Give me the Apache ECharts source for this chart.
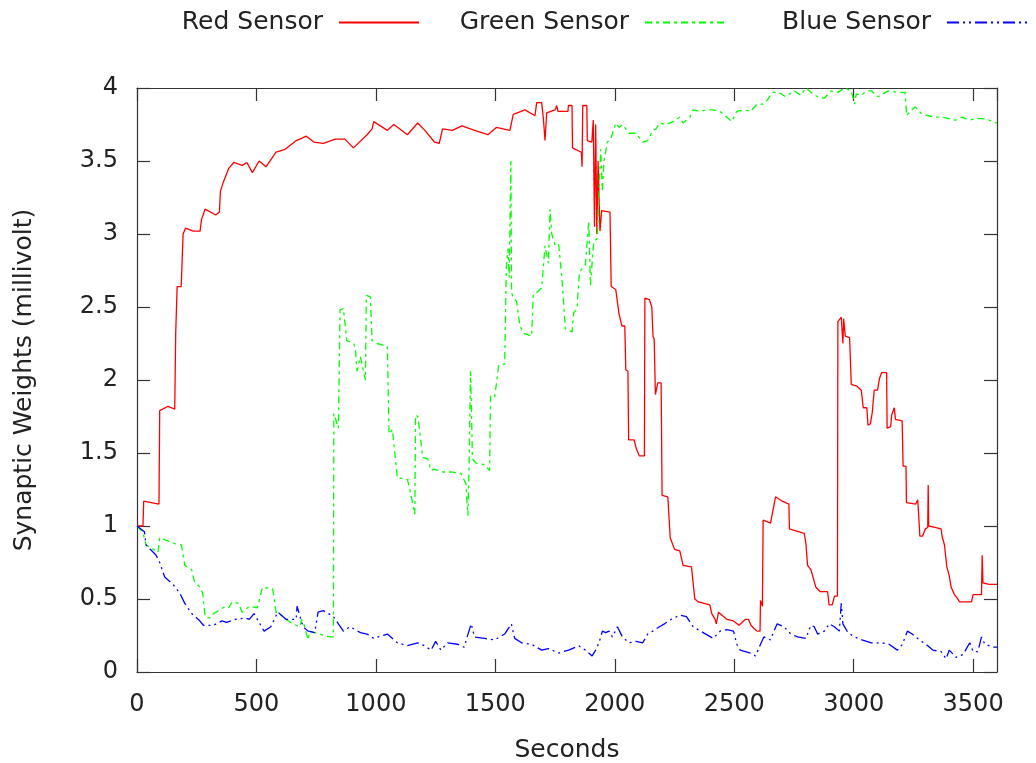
<!DOCTYPE html>
<html>
<head>
<meta charset="utf-8">
<title>Synaptic Weights</title>
<script src="https://cdn.jsdelivr.net/npm/echarts@6/dist/echarts.min.js"></script>
<style>
  html, body { margin: 0; padding: 0; background: #fff; }
  #chart { width: 1036px; height: 763px; }
</style>
</head>
<body>
<div id="chart"></div>
<script>
// [seconds, millivolt]
const redSensor = [
  [0,1.0],[25,1.0],[28,1.17],[60,1.16],[92,1.15],[95,1.79],[130,1.82],[158,1.8],[162,2.32],[168,2.64],
  [185,2.64],[193,3.0],[203,3.04],[235,3.02],[264,3.02],[270,3.1],[285,3.17],[330,3.13],[345,3.15],[349,3.29],
  [360,3.35],[384,3.45],[405,3.49],[440,3.47],[460,3.49],[483,3.42],[511,3.5],[540,3.46],[582,3.56],[620,3.58],
  [667,3.64],[709,3.67],[740,3.63],[780,3.62],[830,3.65],[870,3.65],[906,3.59],[963,3.68],[984,3.72],[991,3.77],
  [1048,3.71],[1075,3.75],[1132,3.68],[1175,3.76],[1205,3.71],[1245,3.63],[1265,3.62],[1279,3.72],[1320,3.71],[1360,3.74],
  [1413,3.71],[1469,3.68],[1504,3.73],[1561,3.71],[1575,3.82],[1624,3.85],[1666,3.81],[1673,3.9],[1694,3.9],[1701,3.79],
  [1708,3.64],[1715,3.83],[1750,3.85],[1757,3.88],[1762,3.84],[1804,3.84],[1806,3.88],[1821,3.88],[1823,3.59],[1860,3.56],
  [1863,3.46],[1866,3.88],[1883,3.88],[1885,3.64],[1904,3.63],[1910,3.78],[1915,3.05],[1920,3.75],[1925,3.0],[1930,3.5],
  [1938,3.02],[1945,3.16],[1980,3.15],[1985,2.64],[2004,2.62],[2018,2.45],[2030,2.37],[2042,2.37],[2046,2.07],[2055,2.06],
  [2058,1.59],[2081,1.59],[2090,1.53],[2103,1.48],[2124,1.48],[2126,2.56],[2145,2.55],[2155,2.5],[2160,2.3],[2165,2.28],
  [2170,1.9],[2180,1.98],[2194,1.98],[2198,1.21],[2222,1.2],[2232,0.92],[2250,0.84],[2272,0.83],[2286,0.73],[2321,0.72],
  [2335,0.5],[2350,0.48],[2398,0.46],[2406,0.4],[2420,0.36],[2425,0.33],[2434,0.41],[2455,0.38],[2470,0.36],[2497,0.35],
  [2520,0.32],[2546,0.36],[2560,0.36],[2570,0.32],[2582,0.3],[2596,0.28],[2608,0.28],[2610,0.49],[2618,0.45],[2621,1.04],
  [2652,1.02],[2660,1.09],[2673,1.2],[2701,1.17],[2729,1.15],[2731,0.98],[2751,0.97],[2793,0.95],[2800,0.88],[2807,0.73],
  [2821,0.7],[2842,0.58],[2860,0.55],[2891,0.55],[2897,0.46],[2910,0.46],[2920,0.52],[2932,0.52],[2934,2.4],[2948,2.43],
  [2955,2.25],[2958,2.42],[2965,2.3],[2983,2.29],[2990,1.97],[3011,1.96],[3032,1.93],[3040,1.81],[3055,1.81],[3060,1.69],
  [3070,1.7],[3078,1.78],[3086,1.93],[3100,1.93],[3108,2.01],[3117,2.05],[3138,2.05],[3140,1.67],[3155,1.68],[3159,1.76],
  [3166,1.76],[3170,1.81],[3175,1.73],[3203,1.72],[3207,1.41],[3219,1.41],[3221,1.16],[3260,1.15],[3268,1.18],[3272,1.08],
  [3277,0.93],[3288,0.93],[3300,0.98],[3310,0.99],[3312,1.28],[3314,1.0],[3340,0.99],[3366,0.98],[3370,0.93],[3380,0.87],
  [3390,0.72],[3400,0.66],[3408,0.58],[3422,0.53],[3436,0.5],[3443,0.48],[3493,0.48],[3500,0.53],[3535,0.53],[3538,0.8],
  [3541,0.61],[3567,0.6],[3600,0.6]
];

const greenSensor = [
  [0,1.0],[24,0.96],[38,0.87],[60,0.85],[88,0.82],[95,0.92],[110,0.91],[158,0.88],[186,0.87],[200,0.73],
  [229,0.7],[240,0.62],[264,0.58],[275,0.54],[285,0.38],[305,0.37],[320,0.4],[342,0.42],[370,0.45],[384,0.44],
  [398,0.48],[425,0.47],[440,0.41],[470,0.45],[504,0.44],[525,0.58],[568,0.57],[582,0.41],[596,0.4],[624,0.36],
  [652,0.33],[681,0.31],[690,0.36],[700,0.32],[716,0.22],[723,0.28],[765,0.26],[808,0.24],[822,0.24],[824,1.77],
  [843,1.67],[850,2.48],[864,2.49],[878,2.27],[907,2.25],[914,2.22],[921,2.06],[935,2.16],[956,2.0],[960,2.58],
  [977,2.57],[984,2.27],[1005,2.25],[1048,2.23],[1055,1.63],[1069,1.66],[1090,1.33],[1132,1.32],[1146,1.22],[1163,1.08],
  [1166,1.76],[1176,1.75],[1196,1.47],[1217,1.46],[1231,1.38],[1244,1.39],[1280,1.37],[1314,1.37],[1356,1.36],[1377,1.29],
  [1385,1.07],[1390,1.4],[1396,2.06],[1400,1.8],[1404,1.46],[1420,1.43],[1455,1.42],[1476,1.38],[1480,1.89],[1497,1.88],
  [1514,2.1],[1539,2.11],[1546,2.77],[1553,2.9],[1558,2.7],[1565,3.5],[1568,2.6],[1575,2.56],[1589,2.54],[1603,2.37],
  [1617,2.32],[1652,2.3],[1659,2.59],[1673,2.6],[1694,2.63],[1708,2.92],[1722,2.8],[1729,3.17],[1736,3.0],[1751,2.92],
  [1765,2.93],[1779,2.69],[1793,2.35],[1821,2.33],[1828,2.46],[1842,2.49],[1852,2.74],[1877,2.79],[1891,3.09],[1898,2.65],
  [1912,2.95],[1927,2.97],[1932,3.2],[1941,3.58],[1948,3.3],[1955,3.5],[1969,3.63],[1983,3.65],[2004,3.76],[2018,3.73],
  [2032,3.75],[2046,3.72],[2060,3.69],[2089,3.69],[2117,3.63],[2138,3.64],[2159,3.71],[2173,3.72],[2187,3.76],[2215,3.75],
  [2244,3.77],[2272,3.8],[2286,3.76],[2314,3.8],[2328,3.85],[2356,3.84],[2384,3.85],[2412,3.85],[2440,3.84],[2469,3.8],
  [2490,3.77],[2511,3.84],[2540,3.85],[2568,3.84],[2596,3.89],[2624,3.89],[2640,3.92],[2659,3.97],[2687,3.97],[2715,3.94],
  [2751,3.98],[2779,3.95],[2800,4.0],[2821,3.97],[2849,3.94],[2877,3.93],[2905,3.98],[2934,3.97],[2962,4.0],[2990,3.98],
  [3004,3.89],[3011,3.96],[3032,3.95],[3053,3.98],[3074,3.98],[3102,3.94],[3145,3.98],[3187,3.97],[3215,3.97],[3222,3.81],
  [3236,3.84],[3258,3.87],[3286,3.82],[3314,3.81],[3342,3.8],[3370,3.8],[3398,3.79],[3426,3.78],[3455,3.8],[3483,3.78],
  [3511,3.79],[3539,3.79],[3567,3.78],[3600,3.76]
];

const blueSensor = [
  [0,1.0],[31,0.96],[38,0.87],[80,0.8],[95,0.75],[116,0.65],[151,0.6],[179,0.54],[200,0.47],[229,0.4],
  [257,0.36],[278,0.32],[300,0.32],[320,0.32],[356,0.35],[375,0.34],[412,0.36],[455,0.37],[470,0.36],[490,0.4],
  [532,0.28],[560,0.31],[589,0.41],[625,0.36],[666,0.36],[670,0.45],[695,0.31],[716,0.28],[744,0.27],[758,0.41],
  [780,0.42],[822,0.38],[843,0.33],[864,0.28],[892,0.31],[935,0.27],[963,0.26],[991,0.23],[1048,0.26],[1090,0.2],
  [1132,0.18],[1175,0.2],[1203,0.18],[1231,0.15],[1250,0.21],[1272,0.15],[1300,0.2],[1342,0.19],[1370,0.17],[1380,0.23],
  [1399,0.33],[1413,0.24],[1455,0.23],[1497,0.22],[1539,0.26],[1567,0.33],[1581,0.23],[1610,0.2],[1652,0.19],[1694,0.15],
  [1722,0.16],[1765,0.13],[1807,0.15],[1849,0.18],[1877,0.15],[1905,0.11],[1920,0.15],[1934,0.2],[1948,0.28],[1962,0.27],
  [1976,0.28],[1990,0.24],[2011,0.31],[2032,0.24],[2060,0.2],[2089,0.21],[2117,0.2],[2138,0.26],[2159,0.28],[2187,0.31],
  [2208,0.33],[2236,0.36],[2272,0.39],[2300,0.38],[2328,0.31],[2370,0.27],[2412,0.23],[2441,0.28],[2469,0.29],[2497,0.28],
  [2511,0.19],[2525,0.15],[2568,0.13],[2589,0.11],[2610,0.19],[2624,0.24],[2652,0.22],[2666,0.28],[2680,0.33],[2708,0.31],
  [2737,0.26],[2765,0.24],[2800,0.23],[2821,0.32],[2835,0.31],[2849,0.26],[2877,0.28],[2898,0.33],[2919,0.31],[2940,0.28],
  [2948,0.47],[2955,0.33],[2976,0.27],[3004,0.24],[3035,0.22],[3074,0.2],[3092,0.2],[3117,0.2],[3148,0.19],[3183,0.15],
  [3204,0.19],[3225,0.28],[3245,0.26],[3275,0.22],[3303,0.19],[3331,0.15],[3366,0.14],[3387,0.09],[3400,0.15],[3429,0.1],
  [3458,0.12],[3486,0.2],[3500,0.14],[3520,0.14],[3535,0.24],[3549,0.19],[3584,0.17],[3600,0.17]
];

const seriesNames = ['Red Sensor', 'Green Sensor', 'Blue Sensor'];
const seriesColors = ['#ff0000', '#00ff00', '#0000ff'];

const font = 'DejaVu Sans';
const textColor = '#222';
const chart = echarts.init(document.getElementById('chart'));

function boxAxis (base) {
  return Object.assign({
    type: 'value',
    axisLine: { show: true, onZero: false, lineStyle: { color: '#333', width: 1.2 } },
    axisTick: { show: true, inside: true, length: 13, lineStyle: { color: '#333', width: 1.2 } },
    splitLine: { show: false },
    axisLabel: { show: false }
  }, base)
}

function legendFor (name, right) {
  return {
    data: [name],
    top: 5,
    right: right,
    align: 'right',
    itemWidth: 80,
    itemHeight: 22,
    itemStyle: { opacity: 0 },
    textStyle: { fontFamily: font, fontSize: 25, color: textColor, padding: [0, 11, 0, 0] }
  }
}

const option = {
  animation: false,
  backgroundColor: '#fff',
  legend: [
    legendFor(seriesNames[0], 611),
    legendFor(seriesNames[1], 305),
    legendFor(seriesNames[2], 3)
  ],
  grid: { left: 137, right: 39, top: 88, bottom: 91, containLabel: false, outerBoundsMode: 'none' },
  xAxis: [
    boxAxis({
      min: 0, max: 3600, interval: 500, position: 'bottom',
      name: 'Seconds', nameLocation: 'middle', nameGap: 66,
      nameTextStyle: { fontFamily: font, fontSize: 25, color: textColor },
      axisLabel: {
        show: true, color: textColor, fontFamily: font, fontSize: 24, margin: 21,
        showMaxLabel: false, formatter: v => String(v)
      }
    }),
    boxAxis({ min: 0, max: 3600, interval: 500, position: 'top' })
  ],
  yAxis: [
    boxAxis({
      min: 0, max: 4, interval: 0.5, position: 'left',
      name: 'Synaptic Weights (millivolt)', nameLocation: 'middle', nameGap: 100,
      nameTextStyle: { fontFamily: font, fontSize: 25, color: textColor },
      axisLabel: { show: true, color: textColor, fontFamily: font, fontSize: 24, margin: 19, formatter: v => String(v) }
    }),
    boxAxis({ min: 0, max: 4, interval: 0.5, position: 'right' })
  ],
  series: [
    {
      name: seriesNames[0], type: 'line', data: redSensor, showSymbol: false, symbol: 'none',
      color: seriesColors[0], lineStyle: { width: 1.3, type: 'solid' }
    },
    {
      name: seriesNames[1], type: 'line', data: greenSensor, showSymbol: false, symbol: 'none',
      color: seriesColors[1], lineStyle: { width: 1.3, type: [7, 4, 3, 4] }
    },
    {
      name: seriesNames[2], type: 'line', data: blueSensor, showSymbol: false, symbol: 'none',
      color: seriesColors[2], lineStyle: { width: 1.3, type: [12, 4, 2, 4, 2, 4] }
    }
  ]
}

chart.setOption(option)
</script>
</body>
</html>
